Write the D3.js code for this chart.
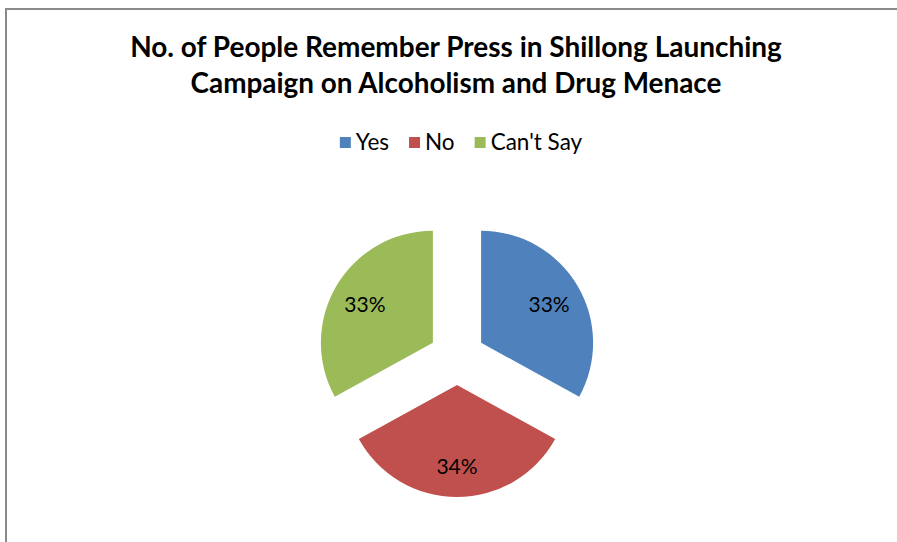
<!DOCTYPE html>
<html><head><meta charset="utf-8">
<script src="https://cdn.jsdelivr.net/npm/d3@7"></script>
<style>html,body{margin:0;padding:0;background:#fff;overflow:hidden}</style>
</head><body>
<svg id="chart" width="897" height="542"></svg>
<script>
const titleLines = ["No. of People Remember Press in Shillong Launching", "Campaign on Alcoholism and Drug Menace"];
const categories = ["Yes", "No", "Can't Say"];
const values = [33, 34, 33];
const colors = ["#4F81BD", "#C0504D", "#9BBB59"];

const W = 897, H = 542;
const svg = d3.select("#chart");
const font = "Lato, 'Open Sans', 'Liberation Sans', sans-serif";

// border
svg.append("path").attr("d", `M6,${H} L6,9 L${W},9`).attr("fill","none")
  .attr("stroke","#8a8a8a").attr("stroke-width",2);

// title
const titleTargets = [{cx:456, y:57, w:652}, {cx:456, y:93, w:531}];
titleLines.forEach((t,i)=>{
  const tx = svg.append("text").attr("x", titleTargets[i].cx).attr("y", titleTargets[i].y)
    .attr("text-anchor","middle").attr("font-family",font).attr("font-weight","bold")
    .attr("font-size",24).attr("fill","#000").text(t);
  const w = tx.node().getComputedTextLength();
  tx.attr("font-size", 24*titleTargets[i].w/w);
});

// legend
const legendG = svg.append("g");
let lx = 0;
const legendFont = 22.5;
categories.forEach((c,i)=>{
  const g = legendG.append("g").attr("transform",`translate(${lx},0)`);
  g.append("rect").attr("x",0).attr("y",-13).attr("width",11).attr("height",11).attr("fill",colors[i]);
  const t = g.append("text").attr("x",16).attr("y",0).attr("font-family",font)
    .attr("font-size",legendFont).attr("fill","#000").text(c);
  lx += 16 + t.node().getComputedTextLength() + 20;
});
const lw = lx - 20;
legendG.attr("transform",`translate(${461 - lw/2},150)`);

// pie
const cx = 457, cy = 357, r = 112, explode = 28, labelDist = 79;
const pie = d3.pie().sort(null).value(d=>d).startAngle(0).endAngle(2*Math.PI);
const arcs = pie(values);
const arc = d3.arc().innerRadius(0).outerRadius(r);
const total = d3.sum(values);
const pg = svg.append("g").attr("transform",`translate(${cx},${cy})`);
arcs.forEach((a,i)=>{
  const mid = (a.startAngle + a.endAngle)/2;
  const dx = Math.sin(mid)*explode, dy = -Math.cos(mid)*explode;
  const g = pg.append("g").attr("transform",`translate(${dx},${dy})`);
  g.append("path").attr("d", arc(a)).attr("fill", colors[i]);
  g.append("text").attr("x", Math.sin(mid)*labelDist).attr("y", -Math.cos(mid)*labelDist + 1)
    .attr("text-anchor","middle").attr("dominant-baseline","central")
    .attr("font-family",font).attr("font-size",21).attr("fill","#000")
    .text(Math.round(values[i]/total*100) + "%");
});
</script>
</body></html>
